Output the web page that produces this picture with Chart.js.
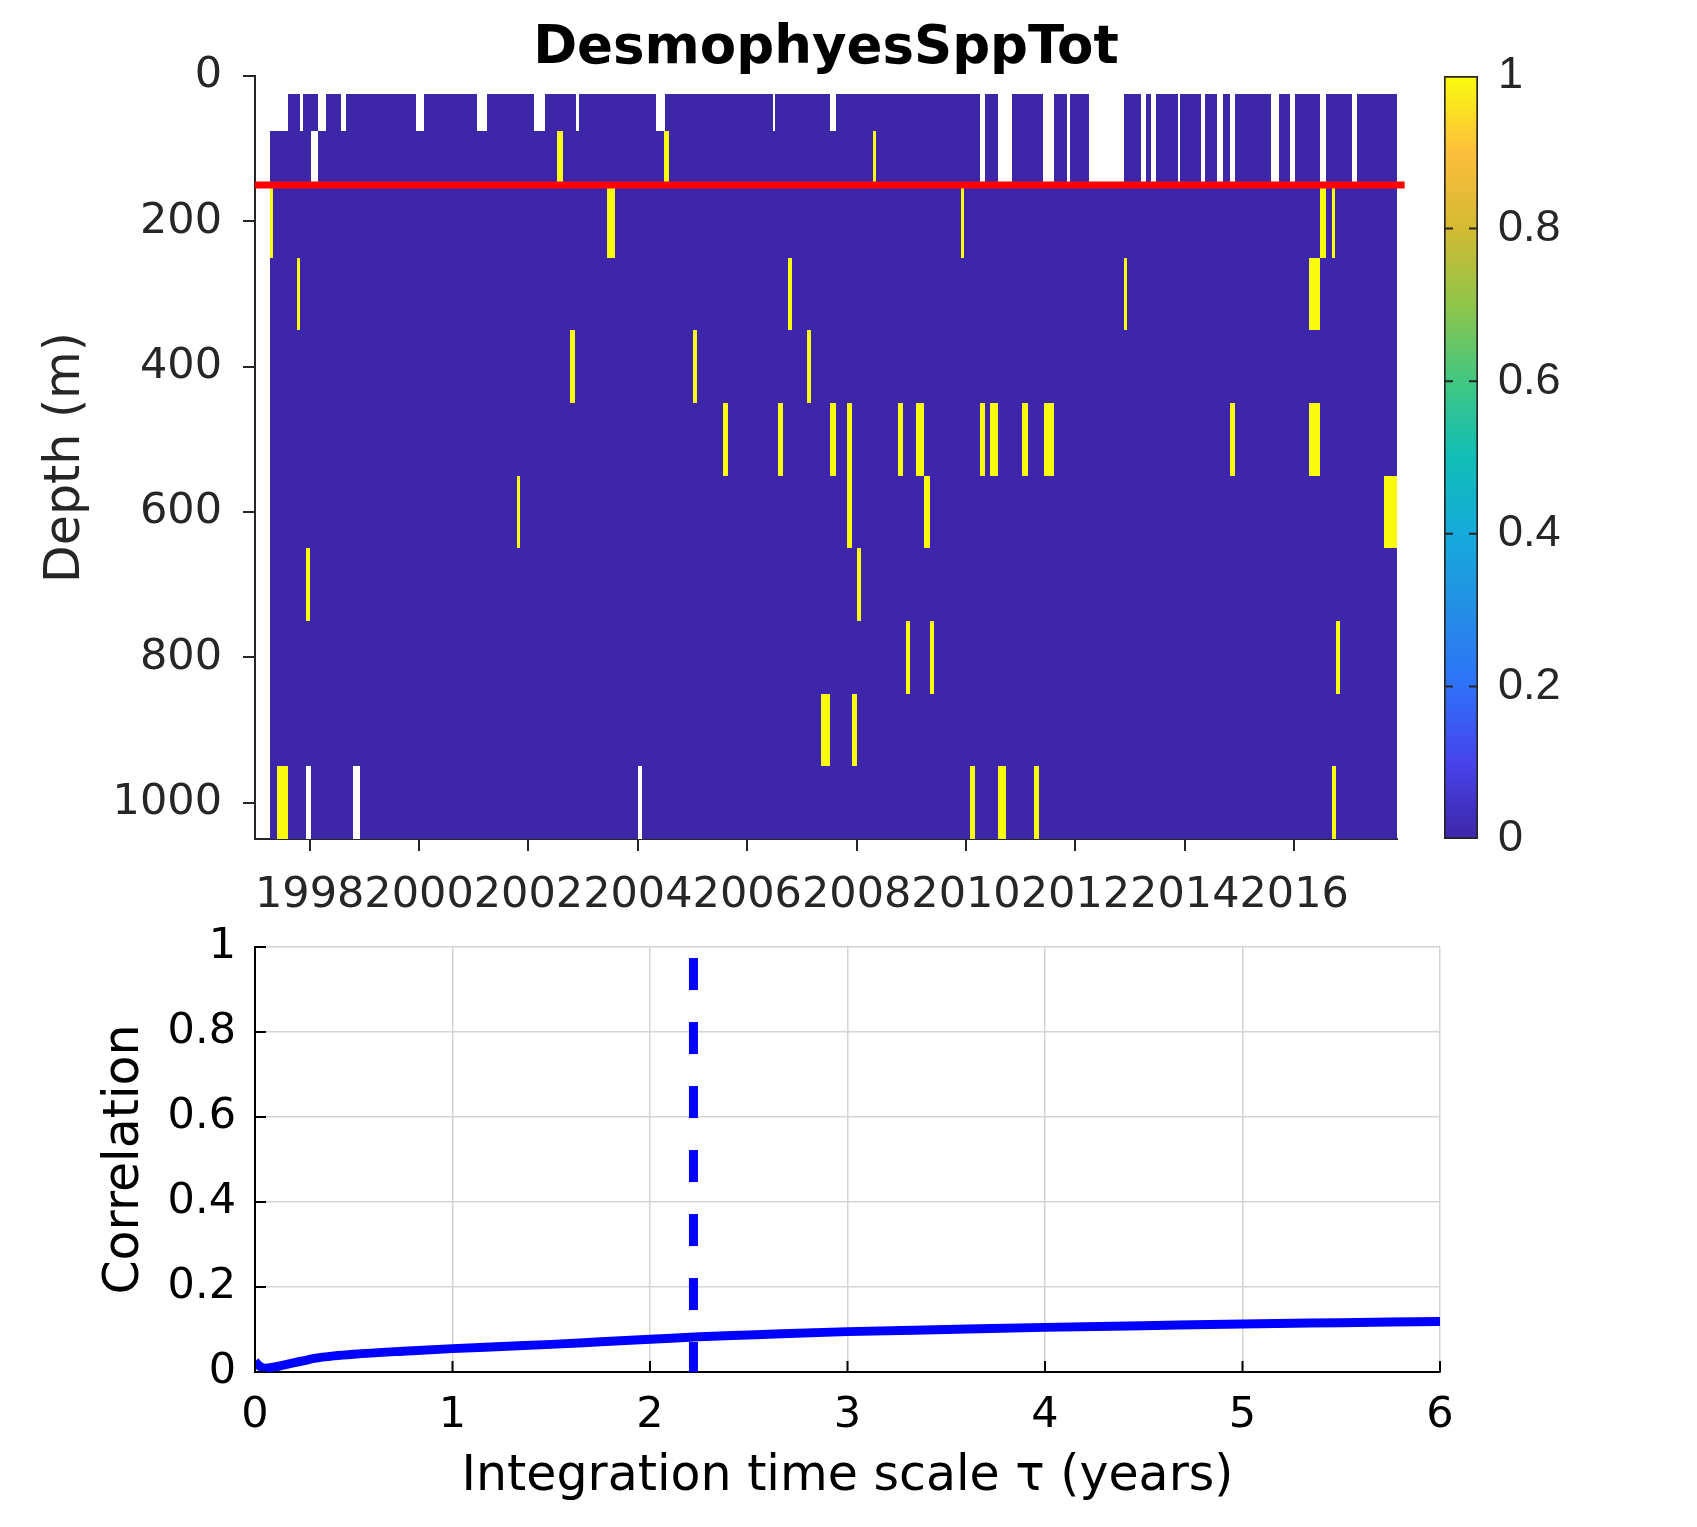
<!DOCTYPE html>
<html lang="en">
  <head>
    <title>DesmophyesSppTot</title>
    <script src="https://cdn.jsdelivr.net/npm/chart.js@4.4.1/dist/chart.umd.min.js"></script>
    <style>
      body { margin: 0; background: #fff; }
      .panel { position: absolute; }
    </style>
  </head>
  <body>
    <div class="panel" style="left:0;top:0;width:1420px;height:930px"><canvas id="heatChart"></canvas></div>
    <div class="panel" style="left:1400px;top:0;width:297px;height:930px"><canvas id="barChart"></canvas></div>
    <div class="panel" style="left:0;top:900px;width:1480px;height:627px"><canvas id="corrChart"></canvas></div>
    <script>
      // depth bins of the sampling grid (m)
      const depthTop = [25, 75, 150, 250, 350, 450, 550, 650, 750, 850, 950];
      const depthBottom = [75, 150, 250, 350, 450, 550, 650, 750, 850, 950, 1050];
      // first sample per row (decimal year), last sample for all rows
      const rowStart = [1997.61, 1997.27, 1997.27, 1997.27, 1997.27, 1997.27, 1997.27, 1997.27, 1997.27, 1997.27, 1997.27];
      const timeEnd = 2017.88;
      const redDepth = 150;

      // missing samples (NaN -> white)
      const row1Gaps = [[1997.83, 1997.88], [1998.16, 1998.29], [1998.58, 1998.66], [1999.94, 2000.09], [2001.06, 2001.24],
        [2002.11, 2002.30], [2002.86, 2002.92], [2004.34, 2004.49], [2006.47, 2006.51], [2007.52, 2007.63]];
      const row2Gaps = [[1998.02, 1998.16]];
      const sharedGaps = [[2010.26, 2010.35], [2010.58, 2010.84], [2011.41, 2011.61], [2011.85, 2011.91], [2012.24, 2012.88],
        [2013.20, 2013.29], [2013.39, 2013.47], [2013.87, 2013.91], [2014.29, 2014.37], [2014.58, 2014.69],
        [2014.82, 2014.91], [2015.58, 2015.73], [2015.92, 2016.02], [2016.48, 2016.59], [2017.05, 2017.15]];
      const row11Gaps = [[1997.93, 1998.02], [1998.80, 1998.92], [2004.00, 2004.07]];
      const gapsByRow = [[...row1Gaps, ...sharedGaps], [...row2Gaps, ...sharedGaps], [], [], [], [], [], [], [], [], row11Gaps];

      // presence (value 1 -> yellow), everything else in a row is 0
      const hitsByRow = [
        [],
        [[2002.53, 2002.63], [2004.48, 2004.57], [2008.30, 2008.36]],
        [[1997.27, 1997.32], [2003.43, 2003.58], [2009.91, 2009.97], [2016.48, 2016.59], [2016.69, 2016.75]],
        [[1997.77, 1997.83], [2006.75, 2006.82], [2012.88, 2012.94], [2016.27, 2016.48]],
        [[2002.76, 2002.85], [2005.01, 2005.08], [2007.09, 2007.16]],
        [[2005.56, 2005.65], [2006.57, 2006.66], [2007.52, 2007.63], [2007.83, 2007.92], [2008.76, 2008.84], [2009.09, 2009.23],
         [2010.26, 2010.35], [2010.44, 2010.58], [2011.02, 2011.14], [2011.42, 2011.60], [2014.82, 2014.91], [2016.27, 2016.48]],
        [[2001.79, 2001.85], [2007.83, 2007.92], [2009.23, 2009.34], [2017.64, 2017.88]],
        [[1997.93, 1998.01], [2008.01, 2008.08]],
        [[2008.90, 2008.98], [2009.34, 2009.42], [2016.77, 2016.84]],
        [[2007.35, 2007.51], [2007.92, 2008.01]],
        [[1997.41, 1997.60], [2010.08, 2010.17], [2010.58, 2010.73], [2011.25, 2011.34], [2016.69, 2016.76]]
      ];

      const yearTicks = [1998, 2000, 2002, 2004, 2006, 2008, 2010, 2012, 2014, 2016];
      const depthTicks = [0, 200, 400, 600, 800, 1000];
      const cbarTicks = [0, 0.2, 0.4, 0.6, 0.8, 1];

      // correlation vs integration time scale
      const tau = [0, 0.02, 0.05, 0.1, 0.15, 0.2, 0.25, 0.3, 0.4, 0.5, 0.75, 1, 1.25, 1.5, 1.75, 2, 2.25, 2.5, 3, 3.5, 4, 4.5, 5, 5.5, 6];
      const corr = [0.025, 0.015, 0.009, 0.012, 0.017, 0.022, 0.027, 0.032, 0.038, 0.042, 0.049, 0.055, 0.060, 0.065, 0.071,
        0.077, 0.083, 0.087, 0.095, 0.100, 0.105, 0.109, 0.113, 0.116, 0.119];
      const tauBest = 2.22;
      const tauTicks = [0, 1, 2, 3, 4, 5, 6];
      const corrTicks = [0, 0.2, 0.4, 0.6, 0.8, 1];

      const BLUE = '#3e26a8';
      const YELLOW = '#f9fb0e';
      const parula = [[0, '#3e26a8'], [0.1, '#4743eb'], [0.2, '#2f71f9'], [0.3, '#238ee5'], [0.4, '#15aadb'],
        [0.5, '#10beb6'], [0.6, '#41c782'], [0.7, '#8fc54a'], [0.8, '#d3ba32'], [0.9, '#fdbe3c'], [1, '#f9fb0e']];

      const heatmap = {
        id: 'heatmap',
        beforeDatasetsDraw(chart) {
          const { ctx, scales: { x, y } } = chart;
          ctx.save();
          depthTop.forEach((d0, i) => {
            const top = Math.round(y.getPixelForValue(d0));
            const bot = Math.round(y.getPixelForValue(depthBottom[i]));
            const fill = (t0, t1, color) => {
              const a = Math.round(x.getPixelForValue(t0));
              const b = Math.max(a + 2, Math.round(x.getPixelForValue(t1)));
              ctx.fillStyle = color;
              ctx.fillRect(a, top, b - a, bot - top);
            };
            fill(rowStart[i], timeEnd, BLUE);
            gapsByRow[i].forEach(g => fill(g[0], g[1], '#ffffff'));
            hitsByRow[i].forEach(h => fill(h[0], h[1], YELLOW));
          });
          ctx.restore();
        }
      };

      new Chart(document.getElementById('heatChart'), {
        type: 'line',
        data: {
          datasets: [{
            data: [{ x: 1997, y: redDepth }, { x: 2018.02, y: redDepth }],
            borderColor: '#ff0000', borderWidth: 7, pointRadius: 0, clip: false
          }]
        },
        options: {
          responsive: true, maintainAspectRatio: false, animation: false,
          layout: { padding: { right: 23 } },
          plugins: {
            legend: { display: false },
            tooltip: { enabled: false },
            title: {
              display: true, text: 'DesmophyesSppTot', fullSize: false, color: '#000',
              font: { family: 'DejaVu Sans', size: 53, weight: 'bold', lineHeight: 1 },
              padding: { top: 23, bottom: 0 }
            }
          },
          scales: {
            x: {
              type: 'linear', min: 1997, max: timeEnd,
              afterBuildTicks: s => { s.ticks = yearTicks.map(v => ({ value: v })); },
              afterFit: s => { s.height = 91; },
              ticks: { callback: v => String(v), font: { family: 'DejaVu Sans', size: 43 }, color: '#262626', padding: 19, maxRotation: 0, autoSkip: false },
              grid: { drawOnChartArea: false, tickLength: 12, color: '#262626', lineWidth: 2 },
              border: { color: '#262626', width: 2 }
            },
            y: {
              type: 'linear', reverse: true, min: 0, max: 1050,
              afterBuildTicks: s => { s.ticks = depthTicks.map(v => ({ value: v })); },
              afterFit: s => { s.width = 255; },
              ticks: { callback: v => String(v), font: { family: 'DejaVu Sans', size: 43 }, color: '#262626', padding: 21 },
              grid: { drawOnChartArea: false, tickLength: 12, color: '#262626', lineWidth: 2 },
              border: { color: '#262626', width: 2 },
              title: { display: true, text: 'Depth (m)', color: '#262626', font: { family: 'DejaVu Sans', size: 49 }, padding: { top: 37, bottom: 0 } }
            }
          }
        },
        plugins: [heatmap]
      });

      // colorbar
      const cbarTicksPlugin = {
        id: 'cbarTicks',
        afterDraw(chart) {
          const { ctx, chartArea: a, scales: { y } } = chart;
          ctx.save();
          ctx.strokeStyle = '#262626';
          ctx.lineWidth = 2;
          ctx.beginPath();
          cbarTicks.slice(1, -1).forEach(v => {
            const p = y.getPixelForValue(v);
            ctx.moveTo(a.left, p); ctx.lineTo(a.left + 9, p);
            ctx.moveTo(a.right, p); ctx.lineTo(a.right - 9, p);
          });
          ctx.stroke();
          ctx.restore();
        }
      };

      new Chart(document.getElementById('barChart'), {
        type: 'bar',
        data: {
          labels: ['c'],
          datasets: [{
            data: [[0, 1]],
            backgroundColor: ctx => {
              const area = ctx.chart.chartArea;
              if (!area) return BLUE;
              const g = ctx.chart.ctx.createLinearGradient(0, area.bottom, 0, area.top);
              parula.forEach(s => g.addColorStop(s[0], s[1]));
              return g;
            },
            borderColor: '#262626', borderWidth: 2, borderSkipped: false,
            barPercentage: 1, categoryPercentage: 1
          }]
        },
        options: {
          responsive: true, maintainAspectRatio: false, animation: false,
          layout: { padding: { left: 44, top: 76, bottom: 91 } },
          plugins: { legend: { display: false }, tooltip: { enabled: false } },
          scales: {
            x: { display: false },
            y: {
              position: 'right', min: 0, max: 1,
              afterBuildTicks: s => { s.ticks = cbarTicks.map(v => ({ value: v })); },
              afterFit: s => { s.width = 219; },
              ticks: { callback: v => String(v), font: { family: 'Liberation Sans', size: 45 }, color: '#262626', padding: 20 },
              grid: { display: false, drawTicks: false },
              border: { display: false }
            }
          }
        },
        plugins: [cbarTicksPlugin]
      });

      // correlation panel
      const innerTicks = {
        id: 'innerTicks',
        afterDraw(chart) {
          const { ctx, chartArea: a, scales: { x, y } } = chart;
          ctx.save();
          ctx.strokeStyle = '#000';
          ctx.lineWidth = 2;
          ctx.beginPath();
          x.ticks.forEach(t => { const p = x.getPixelForValue(t.value); ctx.moveTo(p, a.bottom); ctx.lineTo(p, a.bottom - 11); });
          y.ticks.forEach(t => { const p = y.getPixelForValue(t.value); ctx.moveTo(a.left, p); ctx.lineTo(a.left + 11, p); });
          ctx.stroke();
          ctx.restore();
        }
      };

      new Chart(document.getElementById('corrChart'), {
        type: 'line',
        data: {
          datasets: [
            {
              data: [{ x: tauBest, y: 0.974 }, { x: tauBest, y: 0 }],
              borderColor: '#0000ff', borderWidth: 9, borderDash: [32, 32], pointRadius: 0
            },
            {
              data: tau.map((t, i) => ({ x: t, y: corr[i] })),
              borderColor: '#0000ff', borderWidth: 9, pointRadius: 0, cubicInterpolationMode: 'monotone'
            }
          ]
        },
        options: {
          responsive: true, maintainAspectRatio: false, animation: false,
          layout: { padding: { top: 47, right: 40 } },
          plugins: { legend: { display: false }, tooltip: { enabled: false } },
          scales: {
            x: {
              type: 'linear', min: 0, max: 6,
              afterBuildTicks: s => { s.ticks = tauTicks.map(v => ({ value: v })); },
              afterFit: s => { s.height = 155; },
              ticks: { callback: v => String(v), font: { family: 'DejaVu Sans', size: 43 }, color: '#000', padding: 18, maxRotation: 0 },
              grid: { color: '#d4d4d4', lineWidth: 1.5, drawTicks: false },
              border: { color: '#000', width: 2 },
              title: { display: true, text: 'Integration time scale τ (years)', color: '#000', font: { family: 'DejaVu Sans', size: 49 }, padding: { top: 0, bottom: 20 } }
            },
            y: {
              type: 'linear', min: 0, max: 1,
              afterBuildTicks: s => { s.ticks = corrTicks.map(v => ({ value: v })); },
              afterFit: s => { s.width = 255; },
              ticks: { callback: v => String(v), font: { family: 'DejaVu Sans', size: 43 }, color: '#000', padding: 19 },
              grid: { color: '#d4d4d4', lineWidth: 1.5, drawTicks: false },
              border: { color: '#000', width: 2 },
              title: { display: true, text: 'Correlation', color: '#000', font: { family: 'DejaVu Sans', size: 49 }, padding: { top: 96, bottom: 0 } }
            }
          }
        },
        plugins: [innerTicks]
      });
    </script>
  </body>
</html>
